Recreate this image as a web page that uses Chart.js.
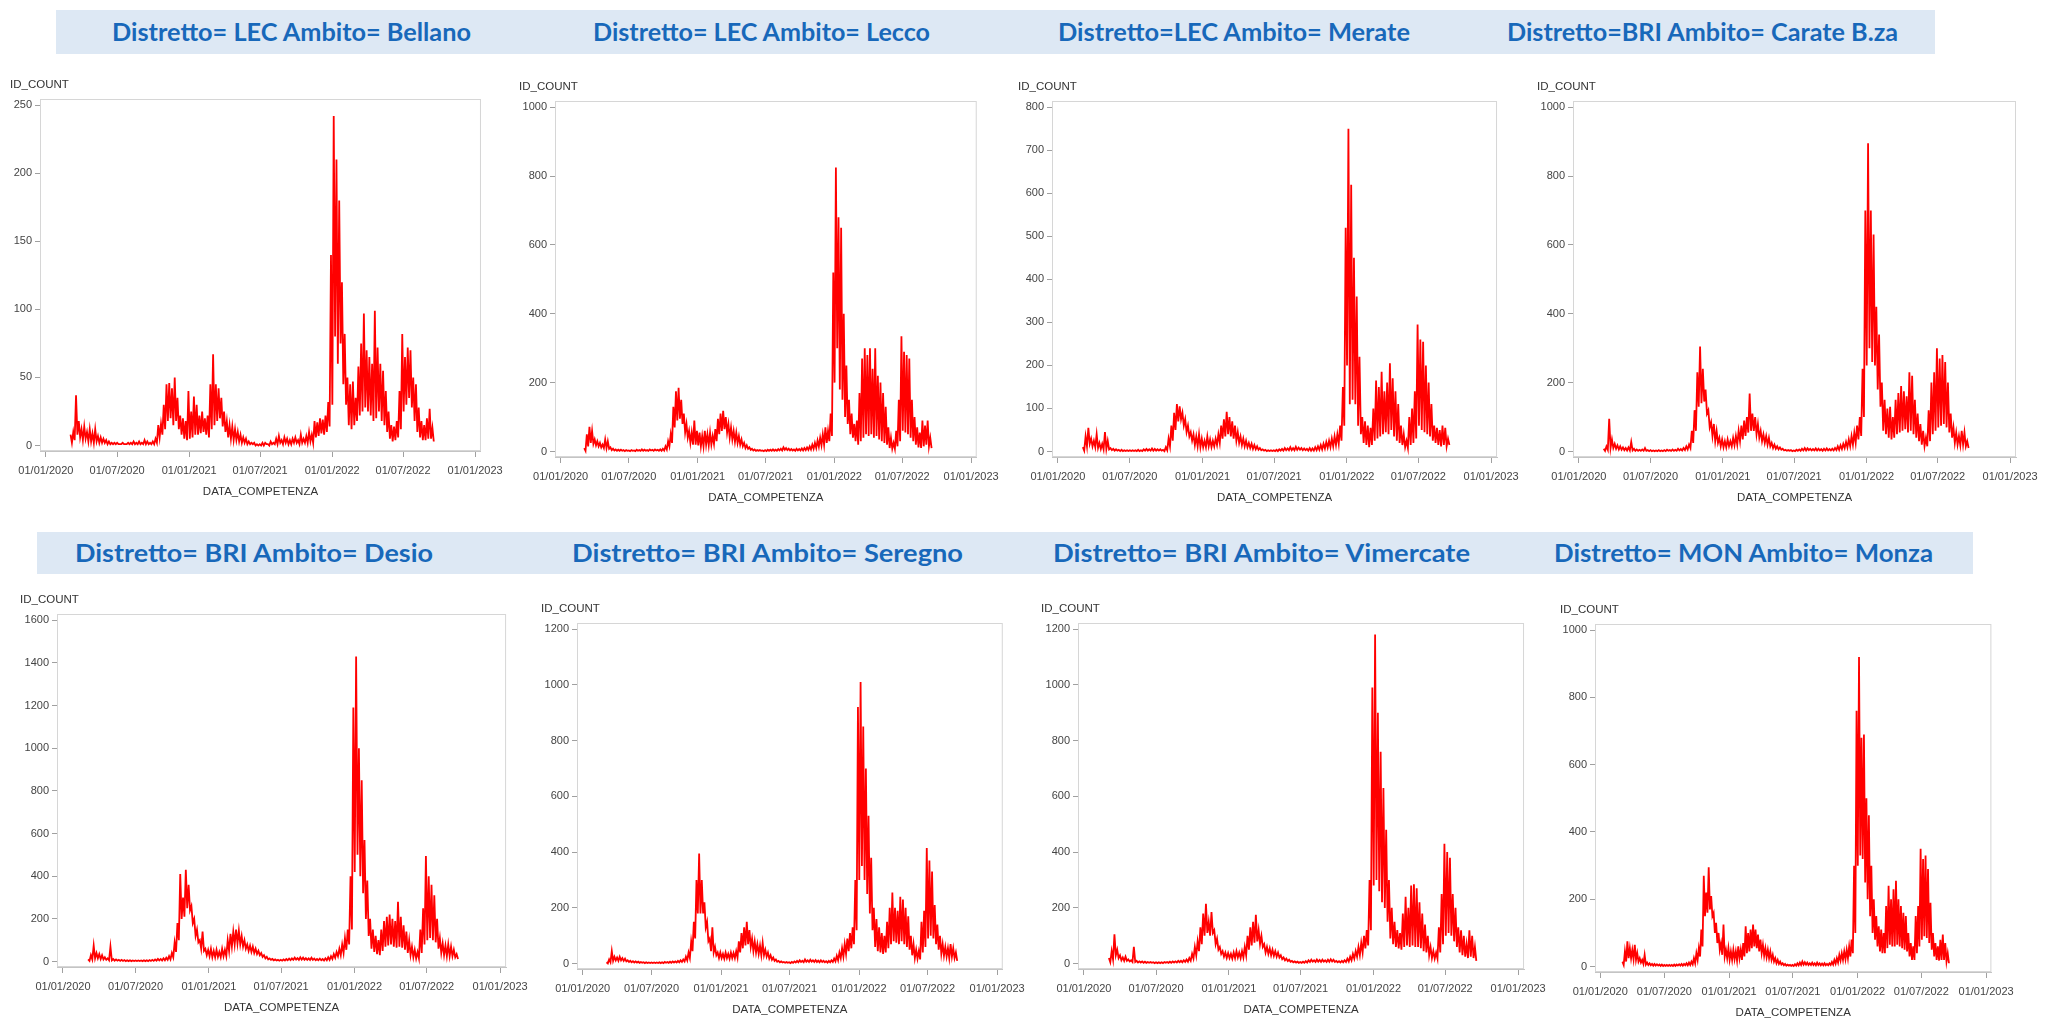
<!DOCTYPE html>
<html lang="it">
<head>
<meta charset="UTF-8">
<title>ID_COUNT per Distretto / Ambito</title>
<script src="https://cdn.jsdelivr.net/npm/chart.js"></script>
<style>
  body { margin: 0; width: 2051px; height: 1020px; background: #fff; position: relative; overflow: hidden; }
  .banner { position: absolute; background: #dde8f4; }
  .ttl { position: absolute; font-family: Lato, "Open Sans", sans-serif; font-weight: 700; font-size: 24px;
         line-height: 24px; color: #1868ba; white-space: nowrap; transform-origin: left center; }
  .box { position: absolute; }
</style>
</head>
<body>
<div class="banner" style="left:56px;top:10px;width:1879px;height:44px"></div>
<div class="banner" style="left:37px;top:532px;width:1936px;height:42px"></div>

<script>
// one value pair per week: weekday high, then weekend low
// first week starts 04/03/2020 = day 63 counted from 01/01/2020
const startDay = 63;

const xTickDays = [0, 182, 366, 547, 731, 912, 1096];
const xTickLabels = ['01/01/2020', '01/07/2020', '01/01/2021', '01/07/2021', '01/01/2022', '01/07/2022', '01/01/2023'];

const titles = [
  'Distretto= LEC Ambito= Bellano', 'Distretto= LEC Ambito= Lecco',
  'Distretto=LEC Ambito= Merate', 'Distretto=BRI Ambito= Carate B.za',
  'Distretto= BRI Ambito= Desio', 'Distretto= BRI Ambito= Seregno',
  'Distretto= BRI Ambito= Vimercate', 'Distretto= MON Ambito= Monza'
];

const yMaxes = [250, 1000, 800, 1000, 1600, 1200, 1200, 1000];
const ySteps = [50, 200, 100, 200, 200, 200, 200, 200];

const bellanoHi = [
  8,10,37,18,12,14,10,12,9,12,
  7,6,5,4,3,2,2,2,1,2,
  1,2,2,3,2,3,2,4,3,2,
  3,5,15,16,30,45,46,42,50,35,
  22,20,18,40,25,36,30,22,25,20,
  22,45,67,45,42,35,25,18,15,14,
  12,10,8,6,5,3,2,2,1,1,
  2,2,1,3,2,5,7,4,6,5,
  4,5,6,4,8,5,7,10,8,18,
  17,20,19,22,32,140,242,210,180,120,
  82,50,45,47,35,58,75,97,70,65,
  60,99,72,60,55,40,25,15,14,18,
  40,82,65,72,70,50,45,28,18,15,
  20,27,13
];
const bellanoLo = [
  2,4,8,6,4,5,3,3,2,3,
  2,2,2,1,1,1,1,1,1,1,
  1,1,1,1,1,1,1,1,1,1,
  1,2,6,8,12,18,20,15,18,12,
  8,5,4,5,6,8,8,9,10,8,
  6,12,15,18,20,14,10,6,5,4,
  4,3,2,2,1,1,1,0,0,0,
  0,1,0,1,1,1,2,1,2,1,
  1,2,2,1,2,2,2,3,2,6,
  7,9,8,10,14,30,80,60,75,45,
  30,15,12,15,18,22,25,28,25,22,
  18,20,25,18,15,10,5,3,4,6,
  12,25,30,35,28,18,10,6,4,4,
  5,5,3
];

const leccoHi = [
  10,50,72,60,35,30,25,20,35,30,
  12,8,6,5,5,4,4,3,4,3,
  5,4,6,5,4,6,5,6,5,6,
  8,15,30,50,130,175,185,150,110,80,
  60,55,90,60,55,45,60,50,55,45,
  65,95,110,118,100,80,70,60,55,45,
  35,25,18,12,8,6,4,4,3,4,
  5,5,6,5,7,8,12,10,8,7,
  6,8,7,9,10,12,15,20,25,32,
  40,50,70,60,110,520,825,680,650,400,
  250,150,110,80,90,170,270,300,280,300,
  240,300,220,200,170,130,70,40,25,60,
  150,335,290,280,270,150,100,70,55,90,
  75,90,40
];
const leccoLo = [
  2,15,25,22,18,15,12,10,10,8,
  4,3,2,2,2,1,2,1,2,1,
  2,2,2,2,2,3,2,3,2,2,
  3,6,15,25,70,90,95,80,55,40,
  25,20,20,18,15,15,20,18,20,22,
  30,50,60,65,55,40,35,28,25,20,
  15,10,8,5,3,2,2,2,1,1,
  2,2,2,2,3,3,5,4,3,3,
  2,3,3,3,4,5,6,8,10,14,
  18,20,25,30,45,200,300,180,150,100,
  80,50,40,30,20,30,40,50,45,50,
  40,45,35,30,25,20,10,8,8,15,
  30,60,55,50,40,30,20,12,10,15,
  20,15,10
];

const merateHi = [
  10,35,55,30,25,40,20,18,45,25,
  8,6,5,4,4,3,3,3,3,3,
  4,3,5,6,5,7,6,5,5,4,
  10,30,60,90,110,105,90,75,60,45,
  40,35,40,30,25,35,28,25,30,40,
  60,75,92,80,70,60,45,35,30,25,
  20,18,15,12,8,5,4,3,3,3,
  4,5,6,8,7,10,8,11,9,8,
  7,6,8,7,10,12,15,18,22,25,
  30,35,40,60,150,520,750,620,450,360,
  220,80,70,60,55,100,165,150,185,140,
  160,205,170,140,110,60,40,25,80,100,
  140,295,260,255,200,160,110,60,55,50,
  60,55,30
];
const merateLo = [
  2,12,18,12,10,8,6,5,6,5,
  3,2,2,1,1,1,1,1,1,1,
  1,1,2,2,2,2,2,2,2,1,
  3,12,25,50,70,75,60,45,35,25,
  15,12,10,10,10,12,10,12,15,20,
  30,35,40,35,30,25,20,15,12,10,
  8,6,5,4,3,2,1,1,1,1,
  1,2,2,3,3,3,3,4,4,3,
  3,2,2,2,3,4,5,7,9,10,
  12,15,18,25,60,200,110,120,110,60,
  40,20,15,10,15,25,30,35,40,45,
  40,50,35,25,20,15,10,8,15,20,
  30,60,50,45,40,35,25,20,15,12,
  15,12,15
];

const carateHi = [
  8,15,95,35,22,18,15,12,10,12,
  28,8,6,5,6,10,4,4,3,3,
  4,3,4,5,4,6,5,8,7,10,
  15,20,60,120,230,305,240,180,120,85,
  80,60,40,35,30,35,30,40,45,60,
  75,90,100,168,110,100,80,60,50,45,
  40,25,20,15,12,8,5,4,4,3,
  5,6,8,10,9,8,7,9,8,7,
  8,9,7,8,10,15,18,22,28,35,
  45,55,75,100,240,700,895,700,630,420,
  340,200,150,125,130,100,150,170,190,175,
  160,230,220,150,110,80,60,40,120,200,
  230,300,270,280,260,200,110,70,55,45,
  60,55,30
];
const carateLo = [
  2,5,10,10,8,6,5,4,3,3,
  3,2,2,2,2,2,1,1,1,1,
  1,1,1,2,2,2,2,3,3,4,
  6,10,25,60,130,140,145,110,70,45,
  30,25,15,12,12,15,15,18,20,30,
  35,45,55,60,60,50,40,30,25,20,
  15,10,8,6,5,3,2,2,1,1,
  2,2,3,3,4,3,3,3,3,2,
  3,3,3,3,4,5,7,10,12,15,
  20,25,35,45,100,250,300,260,250,180,
  130,60,50,40,35,40,50,55,60,65,
  55,60,50,40,30,20,15,15,30,50,
  60,70,75,80,70,55,40,25,20,18,
  20,15,10
];

const desioHi = [
  10,30,75,40,35,30,20,15,70,12,
  10,8,8,7,6,6,5,5,5,5,
  6,6,7,8,10,12,12,15,18,25,
  40,90,180,410,300,430,360,260,200,150,
  100,140,60,55,60,50,55,45,60,55,
  100,130,140,150,145,120,100,80,75,70,
  60,50,40,30,22,15,12,10,8,8,
  10,12,14,15,18,16,20,18,16,15,
  18,14,12,14,12,15,20,25,35,45,
  60,80,110,150,400,1190,1430,1000,850,570,
  380,200,150,120,100,150,190,210,220,200,
  190,280,210,170,140,100,70,55,45,150,
  250,495,400,360,310,200,110,85,75,80,
  70,55,35
];
const desioLo = [
  3,10,15,15,12,10,8,6,6,4,
  4,3,3,2,2,2,2,2,2,2,
  2,2,3,3,4,5,5,6,8,10,
  20,45,100,200,210,250,240,180,120,90,
  60,50,30,25,20,20,22,20,25,25,
  50,70,80,85,80,70,60,50,45,40,
  35,30,22,15,10,8,6,5,4,4,
  5,6,7,8,9,8,9,8,8,7,
  8,6,6,6,5,6,8,12,18,25,
  30,40,55,80,150,420,500,400,320,200,
  120,60,45,35,30,50,70,75,80,70,
  65,70,65,55,40,30,20,15,15,40,
  80,100,110,100,90,60,40,30,25,25,
  25,20,12
];

const seregnoHi = [
  5,15,45,25,22,25,20,18,12,10,
  9,8,7,6,5,5,4,4,4,4,
  5,5,6,6,7,8,8,10,12,15,
  25,40,80,150,300,395,300,220,150,90,
  130,60,40,40,35,40,35,40,38,45,
  80,110,130,150,120,90,80,70,65,75,
  50,40,30,22,15,10,8,6,6,5,
  6,8,10,12,10,15,12,14,12,13,
  11,12,10,9,10,12,18,28,40,55,
  70,90,110,130,300,920,1010,850,700,530,
  380,200,160,130,110,100,150,200,255,200,
  190,240,230,200,170,100,70,50,45,150,
  190,415,370,330,210,140,100,70,60,55,
  70,55,40
];
const seregnoLo = [
  1,5,10,12,10,12,10,8,6,5,
  4,4,3,3,2,2,2,2,2,2,
  2,2,3,3,3,4,4,5,6,8,
  12,20,45,90,180,180,180,130,80,45,
  40,30,20,20,18,20,18,20,20,22,
  40,55,65,70,60,45,40,35,30,30,
  25,18,14,10,7,5,4,3,3,2,
  3,4,5,6,5,7,6,7,6,6,
  5,6,5,4,5,6,8,12,20,25,
  35,45,55,70,120,300,350,300,250,180,
  120,60,45,40,35,40,55,70,80,75,
  70,80,70,60,50,30,20,18,15,40,
  60,90,100,90,70,50,35,28,25,20,
  25,20,10
];

const vimercateHi = [
  20,45,105,50,30,22,25,15,12,60,
  10,8,8,7,6,6,5,5,5,5,
  6,6,7,8,8,10,10,12,15,20,
  35,60,80,130,180,215,150,185,120,90,
  60,45,40,38,35,40,45,40,45,60,
  100,130,150,175,120,100,70,60,55,50,
  45,40,30,22,18,14,10,8,7,6,
  7,9,12,14,12,15,13,14,12,14,
  16,14,10,9,10,12,18,25,35,45,
  60,75,100,120,300,990,1180,900,760,630,
  480,300,200,150,120,110,180,240,200,280,
  285,270,220,180,140,100,60,45,40,130,
  250,430,400,380,250,200,130,120,100,70,
  120,100,60
];
const vimercateLo = [
  5,15,30,20,12,10,10,8,6,6,
  4,4,3,3,3,3,2,2,2,2,
  3,3,3,4,4,5,5,6,7,10,
  18,30,45,70,100,110,100,110,70,50,
  35,25,20,20,18,20,22,20,22,30,
  50,65,75,80,70,60,40,35,30,28,
  25,22,16,12,9,7,5,4,3,3,
  3,4,6,7,6,7,6,7,6,7,
  8,6,5,4,5,6,8,12,18,25,
  30,40,55,65,120,280,300,260,220,200,
  150,90,70,60,55,50,60,65,60,65,
  60,60,55,45,40,30,20,18,18,40,
  70,100,110,100,80,60,40,30,25,20,
  25,20,10
];

const monzaHi = [
  15,45,75,55,50,65,40,25,20,35,
  12,10,8,8,7,6,6,5,5,5,
  5,6,6,7,8,8,10,12,15,25,
  40,55,110,270,220,295,210,160,130,100,
  70,125,50,55,45,50,45,60,50,70,
  120,100,110,125,110,95,80,65,55,50,
  45,35,25,20,15,10,8,6,5,5,
  7,10,12,15,13,12,10,12,10,12,
  10,9,10,8,10,14,20,25,35,40,
  45,50,60,80,300,760,920,680,690,500,
  450,300,200,150,120,110,100,180,240,200,
  230,255,200,180,160,150,100,70,60,150,
  180,350,320,330,290,190,100,70,60,80,
  95,70,40
];
const monzaLo = [
  5,15,25,25,22,20,15,12,8,6,
  5,4,3,3,3,2,2,2,2,2,
  2,2,3,3,3,4,4,5,7,10,
  20,30,60,150,160,170,150,100,70,50,
  35,30,25,20,20,22,18,25,20,30,
  40,45,55,60,55,45,40,32,28,25,
  20,15,10,8,6,4,3,3,2,2,
  3,4,5,6,6,5,5,5,4,5,
  4,4,4,4,5,6,9,12,18,20,
  22,25,30,40,100,300,330,320,250,200,
  150,100,80,60,45,40,40,55,65,60,
  60,65,60,55,50,45,30,20,20,40,
  60,80,90,85,70,50,30,20,18,20,
  20,15,10
];

const highs = [bellanoHi, leccoHi, merateHi, carateHi, desioHi, seregnoHi, vimercateHi, monzaHi];
const lows = [bellanoLo, leccoLo, merateLo, carateLo, desioLo, seregnoLo, vimercateLo, monzaLo];

// layout: plot frame [left, top, right, bottom] and title text [left, right, centre y]
const frames = [
  [40, 100, 482, 451], [555, 102, 978, 457], [1052, 102, 1498, 457], [1573, 102, 2017, 457],
  [57, 615, 507, 967], [577, 624, 1004, 969], [1078, 624, 1525, 969], [1595, 625, 1993, 972]
];
const titleBoxes = [
  [112, 471, 33], [593, 930, 33], [1058, 1410, 33], [1507, 1898, 33],
  [75, 433, 554], [572, 963, 554], [1053, 1470, 554], [1554, 1933, 554]
];
// the first panel has only 3-digit ticks, so its axis block is narrower
const axisWidths = [30, 36, 34, 36, 37, 36, 37, 35];

const TOP_H = 26, XAXIS_H = 50, RIGHT_PAD = 28;

Chart.defaults.font.family = '"Liberation Sans", Arial, sans-serif';
Chart.defaults.color = '#3a3a3a';

const framePlugin = {
  id: 'frame',
  beforeDatasetsDraw(chart) {
    const a = chart.chartArea, ctx = chart.ctx;
    ctx.save();
    ctx.strokeStyle = '#d6d6d6';
    ctx.lineWidth = 1;
    ctx.strokeRect(a.left + 0.5, a.top + 0.5, a.right - a.left - 1, a.bottom - a.top - 1);
    ctx.restore();
  }
};

function buildPoints(hi, lo) {
  const pts = [];
  const n = Math.min(hi.length, lo.length);
  for (let k = 0; k < n; k++) {
    pts.push({ x: startDay + 7 * k, y: hi[k] });
    pts.push({ x: startDay + 7 * k + 3.5, y: lo[k] });
  }
  return pts;
}

// titles
const titleSpans = titles.map((t, i) => {
  const s = document.createElement('span');
  s.className = 'ttl';
  s.textContent = t;
  s.style.left = titleBoxes[i][0] + 'px';
  s.style.top = (titleBoxes[i][2] - 13) + 'px';
  document.body.appendChild(s);
  return s;
});
function fitTitles() {
  titleSpans.forEach((s, i) => {
    s.style.transform = 'none';
    const w = s.getBoundingClientRect().width;
    const target = titleBoxes[i][1] - titleBoxes[i][0];
    s.style.transform = 'scaleX(' + (target / w) + ')';
  });
}
fitTitles();
if (document.fonts) document.fonts.ready.then(fitTitles);

// charts
frames.forEach((f, i) => {
  const [fl, ft, fr, fb] = f;
  const axisW = axisWidths[i];
  const w = (fr - fl) + axisW + RIGHT_PAD;
  const h = (fb - ft) + TOP_H + XAXIS_H;
  const box = document.createElement('div');
  box.className = 'box';
  box.style.left = (fl - axisW) + 'px';
  box.style.top = (ft - TOP_H) + 'px';
  box.style.width = w + 'px';
  box.style.height = h + 'px';
  const cv = document.createElement('canvas');
  cv.width = w; cv.height = h;
  cv.style.width = w + 'px'; cv.style.height = h + 'px';
  box.appendChild(cv);
  document.body.appendChild(box);

  const yMax = yMaxes[i], yStep = ySteps[i];
  const yTicks = [];
  for (let v = 0; v <= yMax; v += yStep) yTicks.push(v);

  new Chart(cv, {
    type: 'line',
    data: {
      datasets: [{
        data: buildPoints(highs[i], lows[i]),
        borderColor: '#ff0000',
        borderWidth: 1.8,
        pointRadius: 0,
        tension: 0,
        fill: false
      }]
    },
    options: {
      responsive: false,
      animation: false,
      layout: { padding: { left: 0, right: RIGHT_PAD, top: 0, bottom: 0 } },
      plugins: {
        legend: { display: false },
        tooltip: { enabled: false },
        title: {
          display: true, text: 'ID_COUNT', align: 'start', color: '#333',
          font: { size: 11.5, weight: 'normal' }, padding: { top: 4, bottom: 7.2 }
        }
      },
      scales: {
        x: {
          type: 'linear', min: -15, max: 1111,
          afterBuildTicks: s => { s.ticks = xTickDays.map(v => ({ value: v })); },
          afterFit: s => { s.height = XAXIS_H; },
          ticks: {
            autoSkip: false, maxRotation: 0, minRotation: 0, padding: 7,
            color: '#444', font: { size: 11 },
            callback: (v, idx) => xTickLabels[idx]
          },
          grid: { drawOnChartArea: false, drawTicks: true, tickLength: 6, color: '#a0a0a0' },
          border: { display: true, color: '#c4c4c4' },
          title: {
            display: true, text: 'DATA_COMPETENZA', color: '#333',
            font: { size: 11.5 }, padding: { top: 0, bottom: 2 }
          }
        },
        y: {
          min: -yMax * 0.016, max: yMax * 1.018,
          afterBuildTicks: s => { s.ticks = yTicks.map(v => ({ value: v })); },
          afterFit: s => { s.width = axisW; },
          ticks: { padding: 3, color: '#444', font: { size: 11 }, callback: v => String(v) },
          grid: { drawOnChartArea: false, drawTicks: true, tickLength: 5, color: '#a0a0a0' },
          border: { display: true, color: '#c4c4c4' }
        }
      }
    },
    plugins: [framePlugin]
  });
});
</script>
</body>
</html>
